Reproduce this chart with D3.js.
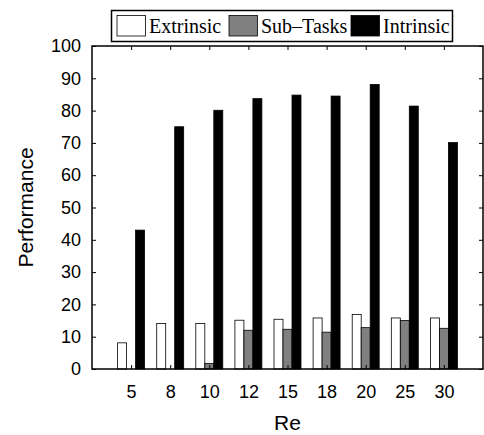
<!DOCTYPE html>
<html>
<head>
<meta charset="utf-8">
<script src="https://cdn.jsdelivr.net/npm/d3@7.9.0/dist/d3.min.js"></script>
<style>
  body { margin: 0; background: #fff; }
  svg { display: block; }
</style>
</head>
<body>
<div id="chart"></div>
<script>
// ---- data ----
const categories = ['5', '8', '10', '12', '15', '18', '20', '25', '30'];
const seriesNames = ['Extrinsic', 'Sub\u2013Tasks', 'Intrinsic'];
const extrinsic = [8.1, 14.1, 14.1, 15.1, 15.4, 15.8, 16.9, 15.8, 15.8];
const subTasks  = [0, 0, 1.7, 12.0, 12.3, 11.4, 12.8, 15.0, 12.6];
const intrinsic = [43.0, 75.0, 80.1, 83.7, 84.8, 84.5, 88.1, 81.4, 70.1];
const yTicks = [0, 10, 20, 30, 40, 50, 60, 70, 80, 90, 100];
const seriesColors = ['#ffffff', '#808080', '#000000'];

const W = 484, H = 435;
const margin = { left: 92, right: 1, top: 46, bottom: 66 };
const pw = W - margin.left - margin.right;
const ph = H - margin.top - margin.bottom;

const svg = d3.select('#chart').append('svg')
  .attr('width', W).attr('height', H);

const g = svg.append('g').attr('transform', `translate(${margin.left},${margin.top})`);

// MATLAB-like: categories at 1..9, xlim [0, 10]
const x = d3.scaleLinear().domain([0, 10]).range([0, pw]);
const y = d3.scaleLinear().domain([0, 100]).range([ph, 0]);
const unit = x(1) - x(0);
const barW = unit * 0.23;

const series = [extrinsic, subTasks, intrinsic];
series.forEach((vals, si) => {
  g.append('g').selectAll('rect')
    .data(vals)
    .join('rect')
    .attr('x', (d, i) => x(i + 1) + (si - 1.5) * barW)
    .attr('y', d => y(d))
    .attr('width', barW)
    .attr('height', d => ph - y(d))
    .attr('fill', seriesColors[si])
    .attr('stroke', '#000')
    .attr('stroke-width', 0.8);
});

// axes (ticks inward, box on all sides)
const tickFont = 'Liberation Sans, Arial, Helvetica, sans-serif';
const tl = 4;

const yAxis = g.append('g')
  .call(d3.axisLeft(y).tickValues(yTicks).tickSize(-tl).tickPadding(7 + tl));
yAxis.select('.domain').remove();
yAxis.selectAll('text').attr('font-family', tickFont).attr('font-size', 18).attr('fill', '#000');

const yAxisR = g.append('g').attr('transform', `translate(${pw},0)`)
  .call(d3.axisRight(y).tickValues(yTicks).tickSize(-tl).tickFormat(''));
yAxisR.select('.domain').remove();

const xVals = categories.map((c, i) => i + 1);
const xAxis = g.append('g').attr('transform', `translate(0,${ph})`)
  .call(d3.axisBottom(x).tickValues(xVals).tickSize(-tl).tickPadding(12 + tl)
    .tickFormat((d, i) => categories[i]));
xAxis.select('.domain').remove();
xAxis.selectAll('text').attr('font-family', tickFont).attr('font-size', 18).attr('fill', '#000');

const xAxisT = g.append('g')
  .call(d3.axisTop(x).tickValues(xVals).tickSize(-tl).tickFormat(''));
xAxisT.select('.domain').remove();

svg.selectAll('.tick line').attr('stroke', '#000').attr('stroke-width', 1);

g.append('rect')
  .attr('x', 0).attr('y', 0).attr('width', pw).attr('height', ph)
  .attr('fill', 'none').attr('stroke', '#000').attr('stroke-width', 1.5);

// axis labels
svg.append('text')
  .attr('x', margin.left + pw / 2).attr('y', 430)
  .attr('text-anchor', 'middle')
  .attr('font-family', tickFont).attr('font-size', 21)
  .text('Re');

svg.append('text')
  .attr('transform', `translate(33,${margin.top + ph / 2}) rotate(-90)`)
  .attr('text-anchor', 'middle')
  .attr('font-family', tickFont).attr('font-size', 21)
  .text('Performance');

// legend
const legend = svg.append('g');
legend.append('rect')
  .attr('x', 111.5).attr('y', 10.5).attr('width', 341).attr('height', 31)
  .attr('fill', '#fff').attr('stroke', '#000').attr('stroke-width', 1.5);

const legendX = [117, 229, 351];
seriesNames.forEach((name, i) => {
  legend.append('rect')
    .attr('x', legendX[i]).attr('y', 15.5).attr('width', 28.5).attr('height', 20.5)
    .attr('fill', seriesColors[i]).attr('stroke', '#000').attr('stroke-width', 0.8);
  legend.append('text')
    .attr('x', legendX[i] + 32).attr('y', 33)
    .attr('font-family', 'Liberation Serif, Times New Roman, serif').attr('font-size', 20)
    .text(name);
});
</script>
</body>
</html>
